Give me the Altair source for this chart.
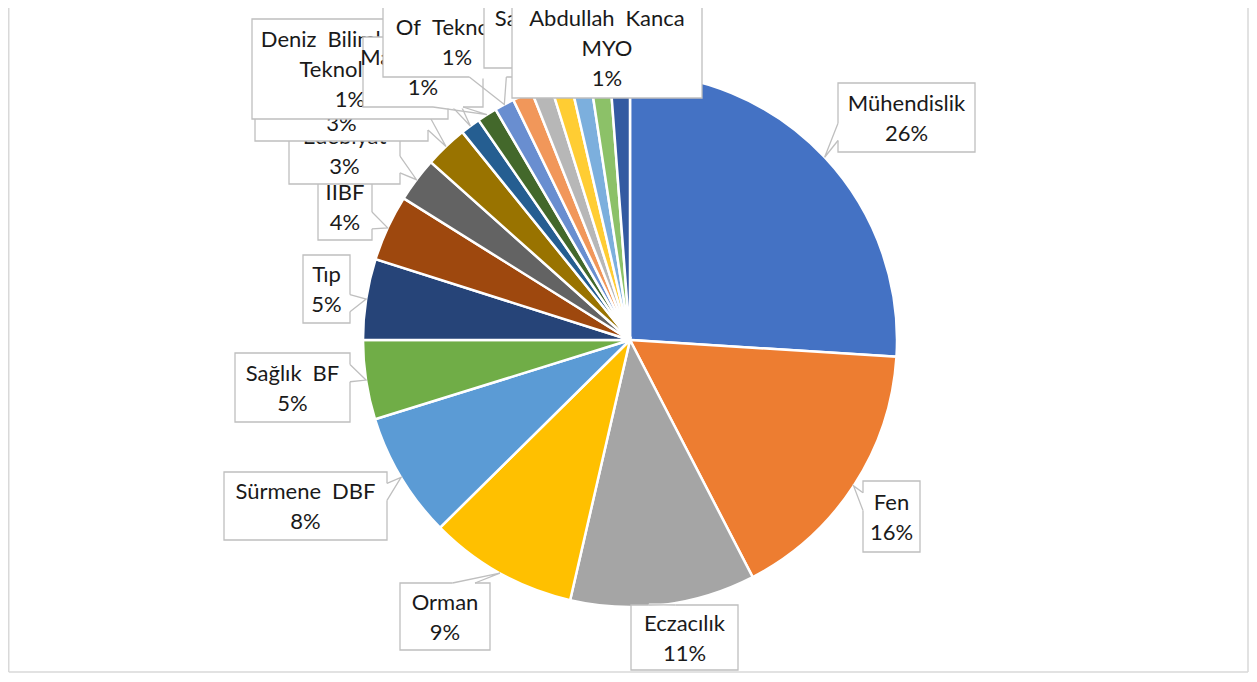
import altair as alt
import pandas as pd
import numpy as np

# ---------------- data ----------------
names = [
    "Mühendislik", "Fen", "Eczacılık", "Orman", "Sürmene DBF", "Sağlık BF",
    "Tıp", "İİBF", "Edebiyat", "Mimarlık", "Deniz Bilimleri ve Teknolojisi",
    "Maçka MYO", "Of Teknoloji", "Sağlık Hizmetleri", "Beşikdüzü MYO",
    "Arsin MYO", "Tonya MYO", "Şalpazarı MYO", "Abdullah Kanca MYO",
]
values = [26.0, 16.4, 11.2, 9.0, 7.6, 4.8, 4.9, 4.0, 2.7, 2.6,
          1.2, 1.2, 1.2, 1.2, 1.2, 1.2, 1.2, 1.2, 1.2]
colors = ["#4472C4", "#ED7D31", "#A5A5A5", "#FFC000", "#5B9BD5", "#70AD47",
          "#264478", "#9E480E", "#636363", "#997300", "#255E91", "#43682B",
          "#698ED0", "#F1975A", "#B7B7B7", "#FFCD33", "#7CAFDD", "#8CC168",
          "#335AA1"]

# ---------------- layout (style, not data) ----------------
W, H = 1241, 665
OFF = 8                      # page margin
CX, CY, R = 630 - OFF, 340 - OFF, 267
FONT = "Lato"
FS = 22
LH = 30
TXT = "#1a1a1a"
BOX_STROKE = "#BFBFBF"

# label box rectangles in page coordinates (x0, y0, x1, y1)
BOXES = {
    "Mühendislik": (838, 83, 975, 152),
    "Fen": (863, 481, 920, 552),
    "Eczacılık": (631, 605, 738, 670),
    "Orman": (400, 583, 490, 650),
    "Sürmene DBF": (224, 472, 387, 540),
    "Sağlık BF": (235, 353, 350, 422),
    "Tıp": (303, 255, 350, 323),
    "İİBF": (318, 173, 372, 240),
    "Edebiyat": (289, 117, 400, 184),
    "Mimarlık": (255, 75, 428, 141),
    "Deniz Bilimleri ve Teknolojisi": (252, 19, 448, 119),
    "Maçka MYO": (363, 37, 483, 107),
    "Of Teknoloji": (383, 7, 531, 77),
    "Sağlık Hizmetleri": (484, -2, 672, 68),
    "Beşikdüzü MYO": (527, 0, 687, 70),
    "Arsin MYO": (537, 2, 677, 72),
    "Tonya MYO": (537, 4, 677, 74),
    "Şalpazarı MYO": (527, 6, 687, 76),
    "Abdullah Kanca MYO": (512, -2, 702, 98),
}
WRAP = {
    "Deniz Bilimleri ve Teknolojisi": "Deniz Bilimleri ve\nTeknolojisi",
    "Abdullah Kanca MYO": "Abdullah Kanca\nMYO",
}
WIDE_SPACE = "\u2002"

xs = alt.Scale(domain=[0, W], range=[0, W], nice=False, zero=False)
ys = alt.Scale(domain=[0, H], range=[0, H], nice=False, zero=False)


def X(f):
    return alt.X(f, type="quantitative", scale=xs, axis=None)


def Y(f):
    return alt.Y(f, type="quantitative", scale=ys, axis=None)


df = pd.DataFrame({"name": names, "value": values, "idx": range(len(names))})
total = float(np.sum(values))
cum = np.cumsum(values)
mid = (cum - np.array(values) / 2) / total * 2 * np.pi

layers = []
pie = alt.Chart(df).mark_arc(radius=R, stroke="white", strokeWidth=2.5).encode(
    theta=alt.Theta("value:Q", stack=True),
    color=alt.Color("name:N", scale=alt.Scale(domain=names, range=colors), legend=None),
    order=alt.Order("idx:Q"),
    x=alt.value(CX),
    y=alt.value(CY),
)
layers.append(pie)


def wedge(box, tip):
    x0, y0, x1, y1 = box
    tx, ty = tip
    w, h = x1 - x0, y1 - y0
    hc, vc = (x0 + x1) / 2, (y0 + y1) / 2
    dx, dy = tx - hc, ty - vc
    dq = dx * h / w
    if abs(dy) - abs(dq) > 0:
        ye = y0 if dy < 0 else y1
        g1, g2 = (7, 10) if dx > 0 else (2, 5)
        return (x0 + w * g1 / 12, ye), (x0 + w * g2 / 12, ye)
    xe = x0 if dx < 0 else x1
    g1, g2 = (7, 10) if dy > 0 else (2, 5)
    return (xe, y0 + h * g1 / 12), (xe, y0 + h * g2 / 12)


for i, n in enumerate(names):
    bx0, by0, bx1, by1 = BOXES[n]
    box = (bx0 - OFF, by0 - OFF, bx1 - OFF, by1 - OFF)
    tip = (CX + R * np.sin(mid[i]), CY - R * np.cos(mid[i]))
    pct = f"{values[i] / total * 100:.0f}%"
    label = (WRAP.get(n, n) + "\n" + pct).replace(" ", WIDE_SPACE)
    nlines = label.count("\n") + 1

    bdf = pd.DataFrame([{"x0": box[0], "y0": box[1], "x1": box[2], "y1": box[3]}])
    layers.append(
        alt.Chart(bdf).mark_rect(fill="white", stroke=BOX_STROKE, strokeWidth=1.3).encode(
            x=X("x0"), x2="x1", y=Y("y0"), y2="y1"
        )
    )
    inside = box[0] <= tip[0] <= box[2] and box[1] <= tip[1] <= box[3]
    if not inside:
        b1, b2 = wedge(box, tip)
        cdf = pd.DataFrame([{"x0": b1[0], "y0": b1[1], "x1": b2[0], "y1": b2[1]}])
        layers.append(
            alt.Chart(cdf).mark_rule(stroke="white", strokeWidth=3).encode(
                x=X("x0"), x2="x1", y=Y("y0"), y2="y1"
            )
        )
        vdf = pd.DataFrame({
            "x": [b1[0], tip[0], b2[0]],
            "y": [b1[1], tip[1], b2[1]],
            "o": [0, 1, 2],
        })
        layers.append(
            alt.Chart(vdf).mark_line(stroke=BOX_STROKE, strokeWidth=1.3).encode(
                x=X("x"), y=Y("y"), order="o:Q"
            )
        )
    ty = (box[1] + box[3]) / 2 - (nlines - 1) * LH / 2 + 1
    tdf = pd.DataFrame([{"x": (box[0] + box[2]) / 2, "y": ty, "t": label}])
    layers.append(
        alt.Chart(tdf).mark_text(
            font=FONT, fontSize=FS, lineBreak="\n", lineHeight=LH, color=TXT,
            align="center", baseline="middle",
        ).encode(x=X("x"), y=Y("y"), text="t:N")
    )

# outer frame (left, right, bottom)
fdf = pd.DataFrame({
    "x0": [0.75, W - 1.0, 0.75],
    "x1": [0.75, W - 1.0, W - 1.0],
    "y0": [-10, -10, H - 1.0],
    "y1": [H - 1.0, H - 1.0, H - 1.0],
})
layers.append(
    alt.Chart(fdf).mark_rule(stroke="#D9D9D9", strokeWidth=1.5).encode(
        x=X("x0"), x2="x1", y=Y("y0"), y2="y1"
    )
)

chart = alt.layer(*layers).properties(
    width=W, height=H, padding=0,
    autosize=alt.AutoSizeParams(type="none"),
).configure_view(stroke=None)

chart.save("out.html", embed_options={"renderer": "svg", "actions": False})
